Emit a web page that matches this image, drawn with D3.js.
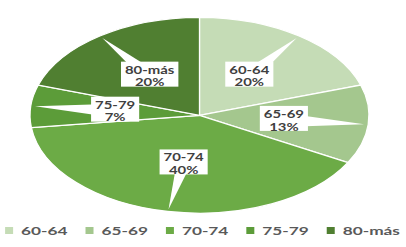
<!DOCTYPE html>
<html>
<head>
<meta charset="utf-8">
<script src="https://cdn.jsdelivr.net/npm/d3@7"></script>
<style>
  html, body { margin: 0; padding: 0; background: #fff; }
  svg { display: block; }
</style>
</head>
<body>
<svg id="chart" width="406" height="247"></svg>
<script>
const categories = ["60-64", "65-69", "70-74", "75-79", "80-más"];
const values = [20, 13, 40, 7, 20];
const colors = ["#c5dcb6", "#a4c78e", "#6cab46", "#5c9c39", "#507f31"];

const W = 406, H = 247;
const cx = 199.5, cy = 115.3, rx = 169.5, ry = 98;
const FONT = "Lato, 'Open Sans', sans-serif";
const labelScaleX = 1.42, legendScaleX = 1.5;

const svg = d3.select("#chart");
const total = d3.sum(values);
const data = categories.map((c, i) => ({ cat: c, value: values[i], color: colors[i] }));

const pie = d3.pie().sort(null).value(d => d.value).startAngle(0).endAngle(2 * Math.PI);
const arcs = pie(data);
const arc = d3.arc().innerRadius(0).outerRadius(1);

// ellipse pie: unit arcs scaled non-uniformly
const pieG = svg.append("g").attr("transform", `translate(${cx},${cy}) scale(${rx},${ry})`);
pieG.selectAll("path").data(arcs).join("path")
  .attr("d", arc)
  .attr("fill", d => d.data.color)
  .attr("stroke", "#fff")
  .attr("stroke-width", 1.3)
  .attr("vector-effect", "non-scaling-stroke");

// label callouts
const labG = svg.append("g");
const toXY = (a, r) => [cx + Math.sin(a) * rx * r, cy - Math.cos(a) * ry * r];

arcs.forEach(d => {
  const mid = (d.startAngle + d.endAngle) / 2;
  const [bx, by] = toXY(mid, 0.5);
  const [tx, ty] = toXY(mid, 0.975);
  const pct = Math.round(d.data.value / total * 100) + "%";

  const g = labG.append("g");
  const tg = g.append("g").attr("transform", `translate(${bx},${by}) scale(${labelScaleX},1)`);
  const t1 = tg.append("text").attr("text-anchor", "middle").attr("y", -2)
    .attr("font-family", FONT).attr("font-weight", 700).attr("font-size", 10.5)
    .attr("fill", "#404040").text(d.data.cat);
  const t2 = tg.append("text").attr("text-anchor", "middle").attr("y", 10.8)
    .attr("font-family", FONT).attr("font-weight", 700).attr("font-size", 10.5)
    .attr("fill", "#404040").text(pct);
  const tw = Math.max(t1.node().getComputedTextLength(), t2.node().getComputedTextLength()) * labelScaleX;
  const bw = tw + 8, bh = 25;

  // wedge
  const dx = tx - bx, dy = ty - by, len = Math.hypot(dx, dy);
  const nx = -dy / len, ny = dx / len, hw = 7;
  g.insert("path", ":first-child")
    .attr("d", `M${bx + nx * hw},${by + ny * hw}L${tx},${ty}L${bx - nx * hw},${by - ny * hw}Z`)
    .attr("fill", "#fff");
  g.insert("rect", "g")
    .attr("x", bx - bw / 2).attr("y", by - bh / 2 - 1.5)
    .attr("width", bw).attr("height", bh)
    .attr("fill", "#fff");
});

// legend
const legG = svg.append("g");
const legY = 230.5;
let x = 0;
data.forEach((d, i) => {
  const g = legG.append("g");
  g.append("rect").attr("x", x).attr("y", legY - 3.5).attr("width", 8).attr("height", 7).attr("fill", d.color);
  const tg = g.append("g").attr("transform", `translate(${x + 16},${legY + 4}) scale(${legendScaleX},1)`);
  const t = tg.append("text").attr("font-family", FONT).attr("font-weight", 700)
    .attr("font-size", 11.5).attr("fill", "#595959").text(d.cat);
  const w = t.node().getComputedTextLength() * legendScaleX;
  x += 16 + w + 18;
});
const legW = x - 18;
legG.attr("transform", `translate(${202.5 - legW / 2},0)`);
</script>
</body>
</html>
